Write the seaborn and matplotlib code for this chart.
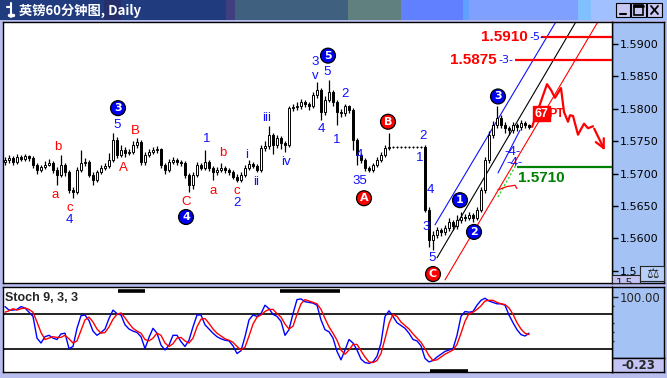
import numpy as np
import pandas as pd
import matplotlib
matplotlib.use("Agg")
import matplotlib.pyplot as plt
from matplotlib.patches import Rectangle
from matplotlib.lines import Line2D
from matplotlib.colors import to_rgb
import seaborn as sns

# ---------------- data ----------------
bars = list(range(132))
opens = [1.5718, 1.5721, 1.5724, 1.5718, 1.5726, 1.5723, 1.5727, 1.5724, 1.5713, 1.5706,
         1.5710, 1.5713, 1.5716, 1.5706, 1.5698, 1.5713, 1.5702, 1.5675, 1.5672, 1.5706,
         1.5716, 1.5718, 1.5698, 1.5690, 1.5702, 1.5709, 1.5712, 1.5721, 1.5752, 1.5729,
         1.5736, 1.5732, 1.5733, 1.5744, 1.5749, 1.5718, 1.5729, 1.5733, 1.5736, 1.5738,
         1.5713, 1.5706, 1.5718, 1.5721, 1.5718, 1.5716, 1.5698, 1.5682, 1.5698, 1.5713,
         1.5709, 1.5718, 1.5709, 1.5702, 1.5706, 1.5709, 1.5706, 1.5702, 1.5695, 1.5690,
         1.5698, 1.5709, 1.5715, 1.5712, 1.5706, 1.5740, 1.5743, 1.5760, 1.5744, 1.5755,
         1.5747, 1.5744, 1.5801, 1.5803, 1.5804, 1.5810, 1.5807, 1.5804, 1.5821, 1.5829,
         1.5795, 1.5814, 1.5826, 1.5810, 1.5795, 1.5793, 1.5804, 1.5798, 1.5752, 1.5729,
         1.5721, 1.5709, 1.5706, 1.5713, 1.5721, 1.5729, 1.5740, 1.5741, 1.5741, 1.5741,
         1.5741, 1.5741, 1.5741, 1.5741, 1.5741, 1.5741, 1.5644, 1.5598, 1.5605, 1.5613,
         1.5610, 1.5616, 1.5625, 1.5619, 1.5628, 1.5633, 1.5632, 1.5636, 1.5632, 1.5644,
         1.5675, 1.5721, 1.5760, 1.5775, 1.5786, 1.5775, 1.5770, 1.5767, 1.5775, 1.5772,
         1.5778, 1.5775]
closes = [1.5721, 1.5724, 1.5718, 1.5726, 1.5723, 1.5727, 1.5724, 1.5713, 1.5706, 1.5710,
          1.5713, 1.5716, 1.5706, 1.5698, 1.5713, 1.5702, 1.5675, 1.5672, 1.5706, 1.5716,
          1.5718, 1.5698, 1.5690, 1.5702, 1.5709, 1.5712, 1.5721, 1.5752, 1.5729, 1.5736,
          1.5732, 1.5733, 1.5744, 1.5749, 1.5718, 1.5729, 1.5733, 1.5736, 1.5738, 1.5713,
          1.5706, 1.5718, 1.5721, 1.5718, 1.5716, 1.5698, 1.5682, 1.5698, 1.5713, 1.5709,
          1.5718, 1.5709, 1.5702, 1.5706, 1.5709, 1.5706, 1.5702, 1.5695, 1.5690, 1.5698,
          1.5709, 1.5715, 1.5712, 1.5706, 1.5740, 1.5743, 1.5760, 1.5744, 1.5755, 1.5747,
          1.5744, 1.5801, 1.5803, 1.5804, 1.5810, 1.5807, 1.5804, 1.5821, 1.5829, 1.5795,
          1.5814, 1.5826, 1.5810, 1.5795, 1.5793, 1.5804, 1.5798, 1.5752, 1.5729, 1.5721,
          1.5709, 1.5706, 1.5713, 1.5721, 1.5729, 1.5740, 1.5741, 1.5741, 1.5741, 1.5741,
          1.5741, 1.5741, 1.5741, 1.5741, 1.5741, 1.5644, 1.5598, 1.5605, 1.5613, 1.5610,
          1.5616, 1.5625, 1.5619, 1.5628, 1.5633, 1.5632, 1.5636, 1.5632, 1.5644, 1.5675,
          1.5721, 1.5760, 1.5775, 1.5786, 1.5775, 1.5770, 1.5767, 1.5775, 1.5772, 1.5778,
          1.5775, 1.5772]
highs = [1.5726, 1.5729, 1.5727, 1.5730, 1.5729, 1.5731, 1.5729, 1.5727, 1.5716, 1.5714,
         1.5719, 1.5722, 1.5719, 1.5710, 1.5729, 1.5716, 1.5705, 1.5680, 1.5710, 1.5736,
         1.5724, 1.5721, 1.5702, 1.5706, 1.5713, 1.5716, 1.5732, 1.5763, 1.5757, 1.5744,
         1.5741, 1.5738, 1.5750, 1.5755, 1.5752, 1.5733, 1.5738, 1.5741, 1.5742, 1.5740,
         1.5716, 1.5722, 1.5725, 1.5724, 1.5721, 1.5719, 1.5701, 1.5702, 1.5718, 1.5717,
         1.5737, 1.5721, 1.5712, 1.5710, 1.5716, 1.5712, 1.5709, 1.5705, 1.5699, 1.5702,
         1.5713, 1.5721, 1.5718, 1.5715, 1.5744, 1.5750, 1.5773, 1.5763, 1.5760, 1.5758,
         1.5750, 1.5805, 1.5808, 1.5810, 1.5815, 1.5814, 1.5811, 1.5826, 1.5841, 1.5832,
         1.5819, 1.5844, 1.5829, 1.5813, 1.5800, 1.5807, 1.5806, 1.5801, 1.5755, 1.5732,
         1.5724, 1.5712, 1.5717, 1.5725, 1.5733, 1.5744, 1.5763, 1.5742, 1.5742, 1.5742,
         1.5742, 1.5742, 1.5742, 1.5742, 1.5742, 1.5744, 1.5648, 1.5612, 1.5618, 1.5616,
         1.5621, 1.5632, 1.5629, 1.5636, 1.5640, 1.5637, 1.5641, 1.5639, 1.5649, 1.5680,
         1.5726, 1.5765, 1.5781, 1.5804, 1.5790, 1.5779, 1.5774, 1.5780, 1.5778, 1.5783,
         1.5781, 1.5777]
lows = [1.5714, 1.5717, 1.5713, 1.5715, 1.5719, 1.5720, 1.5719, 1.5709, 1.5700, 1.5703,
        1.5707, 1.5711, 1.5701, 1.5682, 1.5695, 1.5697, 1.5670, 1.5662, 1.5668, 1.5703,
        1.5712, 1.5694, 1.5682, 1.5687, 1.5699, 1.5705, 1.5709, 1.5718, 1.5724, 1.5725,
        1.5726, 1.5728, 1.5730, 1.5740, 1.5714, 1.5714, 1.5726, 1.5730, 1.5732, 1.5709,
        1.5700, 1.5703, 1.5715, 1.5714, 1.5712, 1.5693, 1.5672, 1.5676, 1.5695, 1.5705,
        1.5706, 1.5704, 1.5690, 1.5698, 1.5703, 1.5701, 1.5698, 1.5691, 1.5687, 1.5687,
        1.5695, 1.5706, 1.5708, 1.5702, 1.5703, 1.5735, 1.5738, 1.5730, 1.5740, 1.5738,
        1.5733, 1.5741, 1.5797, 1.5798, 1.5800, 1.5802, 1.5798, 1.5801, 1.5817, 1.5783,
        1.5790, 1.5810, 1.5805, 1.5775, 1.5787, 1.5789, 1.5793, 1.5736, 1.5713, 1.5716,
        1.5704, 1.5702, 1.5703, 1.5710, 1.5718, 1.5726, 1.5737, 1.5740, 1.5740, 1.5740,
        1.5740, 1.5740, 1.5740, 1.5740, 1.5740, 1.5641, 1.5587, 1.5582, 1.5600, 1.5604,
        1.5606, 1.5612, 1.5613, 1.5615, 1.5624, 1.5627, 1.5628, 1.5626, 1.5628, 1.5640,
        1.5670, 1.5716, 1.5755, 1.5770, 1.5770, 1.5762, 1.5760, 1.5763, 1.5766, 1.5768,
        1.5771, 1.5769]

stoch_k = [86, 81, 81, 82, 86, 84, 78, 72, 41, 34,
           43, 45, 41, 39, 47, 48, 26, 29, 55, 73,
           74, 66, 51, 45, 49, 54, 69, 81, 76, 74,
           60, 54, 51, 49, 43, 26, 42, 55, 48, 31,
           24, 31, 45, 45, 36, 29, 38, 57, 74, 74,
           60, 54, 48, 43, 40, 38, 37, 30, 19, 23,
           43, 67, 74, 72, 76, 88, 83, 75, 72, 65,
           45, 53, 76, 96, 97, 93, 92, 91, 88, 67,
           53, 50, 41, 22, 10, 24, 39, 34, 24, 11,
           6, 5, 7, 15, 34, 72, 80, 72, 63, 59,
           55, 48, 39, 37, 30, 12, 7, 9, 14, 18,
           22, 24, 26, 45, 72, 79, 78, 79, 88, 95,
           98, 94, 92, 90, 90, 88, 74, 63, 53, 46,
           44, 48]
stoch_d = [78, 80, 83, 81, 83, 84, 82, 78, 64, 49,
           39, 41, 43, 42, 42, 45, 40, 34, 37, 52,
           67, 71, 64, 54, 48, 49, 57, 68, 75, 77,
           70, 62, 55, 51, 48, 39, 37, 41, 48, 45,
           34, 29, 33, 41, 42, 37, 34, 41, 57, 68,
           69, 62, 54, 48, 44, 40, 38, 35, 29, 24,
           28, 44, 61, 71, 74, 79, 82, 82, 76, 71,
           61, 54, 58, 75, 90, 96, 94, 92, 90, 82,
           69, 57, 48, 38, 24, 18, 24, 32, 32, 23,
           14, 7, 6, 9, 19, 40, 62, 75, 72, 64,
           59, 54, 47, 41, 35, 26, 16, 9, 10, 14,
           18, 21, 24, 32, 48, 65, 76, 78, 82, 87,
           94, 95, 95, 92, 90, 89, 84, 75, 63, 54,
           48, 46]

price_ticks = [1.5550, 1.5600, 1.5650, 1.5700, 1.5750, 1.5800, 1.5850, 1.5900]
price_tick_labels = ["1.5", "1.5600", "1.5650", "1.5700", "1.5750", "1.5800", "1.5850", "1.5900"]
corner_label = "1.5"
stoch_levels = [25, 75]
stoch_title = "Stoch 9, 3, 3"
stoch_max_label = "100.00"
stoch_min_label = "-0.23"
title = "英镑60分钟图, Daily"

# target / support levels
target_levels = [1.5910, 1.5875]
target_names = ["1.5910", "1.5875"]
target_tags = ["-5-", "-3-"]
target_label_end = [130.75, 123.0]
target_line_start = [134.0, 127.5]
support_level = 1.5710
support_name = "1.5710"
support_line_start = 128.0

# projected path
proj_bar = [131.75, 135.5, 136.5, 137.5, 139.0, 139.75, 140.75, 141.25, 142.0, 143.25, 144.75, 145.75, 147.0, 150.25]
proj_price = [1.5772, 1.5838, 1.5829, 1.5817, 1.5832, 1.5795, 1.5780, 1.5790, 1.5789, 1.5760, 1.5777, 1.5770, 1.5773, 1.5732]

# channel lines: (bar0, price0, bar1, price1)
chan_blue = [107.5, 1.5621, 138.0, 1.5937]
chan_black = [108.0, 1.5570, 143.0, 1.5937]
chan_red = [110.0, 1.5536, 148.5, 1.5937]
short_blue = [123.25, 1.5701, 128.75, 1.5767]
green_dots = [123.25, 1.5664, 128.0, 1.5716]
hook_bar = [123.25, 125.5, 127.5, 128.0]
hook_price = [1.5675, 1.5680, 1.5682, 1.5677]

# wave labels
wave_text = ["b", "a", "c", "4", "5", "A", "B", "C", "1", "a", "b", "c", "2", "i", "ii", "iii",
             "iv", "3", "v", "5", "4", "1", "2", "4", "35", "2", "1", "4", "3", "5", "-4-", "-4-"]
wave_bar = [13.25, 12.5, 16.25, 16.0, 28.0, 29.5, 32.5, 45.25, 50.5, 52.0, 54.5, 58.0, 58.0, 60.5, 62.75, 65.5,
            70.25, 77.5, 77.5, 80.5, 79.0, 83.0, 85.0, 88.5, 88.75, 104.5, 103.75, 106.25, 105.25, 106.75, 127.0, 127.5]
wave_price = [1.5741, 1.5667, 1.5647, 1.5628, 1.5775, 1.5709, 1.5766, 1.5656, 1.5753, 1.5673, 1.5732, 1.5673, 1.5655, 1.5729, 1.5687, 1.5786,
              1.5718, 1.5872, 1.5850, 1.5857, 1.5769, 1.5752, 1.5823, 1.5729, 1.5689, 1.5758, 1.5724, 1.5675, 1.5618, 1.5570, 1.5733, 1.5716]
wave_kind = ["r", "r", "r", "b", "b", "r", "r", "r", "b", "r", "r", "r", "b", "b", "b", "b",
             "b", "b", "b", "b", "b", "b", "b", "b", "b", "b", "b", "b", "b", "b", "b", "b"]

circ_text = ["3", "4", "5", "1", "2", "3", "A", "B", "C"]
circ_bar = [28.25, 45.25, 80.75, 113.75, 117.25, 123.25, 89.75, 95.75, 107.0]
circ_price = [1.5801, 1.5633, 1.5882, 1.5659, 1.5610, 1.5819, 1.5662, 1.5780, 1.5545]
circ_kind = ["b", "b", "b", "b", "b", "b", "r", "r", "r"]

pt_text = ["67", "PT"]
pt_bar = [134.1, 135.75]
pt_price = [1.5792, 1.5792]

cycle_start = [28.25, 68.75, 106.25]
cycle_end = [35.0, 83.75, 115.75]
cycle_level = [108.3, 108.3, -6.3]

# ---------------- styling ----------------
sns.set_style("white")
plt.rcParams['font.family'] = ['DejaVu Sans']

W, H = 667, 378
BG = '#b9bdee'
PANEL = '#a4c2f4'
LAV = '#c4c4f4'
fig = plt.figure(figsize=(W / 100, H / 100), dpi=100, facecolor=BG)


def box(x0, y0, x1, y1):
    return [x0 / W, 1 - y1 / H, (x1 - x0) / W, (y1 - y0) / H]


def frect(x0, y0, x1, y1, **kw):
    fig.add_artist(Rectangle((x0 / W, 1 - y1 / H), (x1 - x0) / W, (y1 - y0) / H,
                             transform=fig.transFigure, **kw))


def fline(xs, ys, **kw):
    fig.add_artist(Line2D([x / W for x in xs], [1 - y / H for y in ys],
                          transform=fig.transFigure, **kw))


# title bar
axt = fig.add_axes(box(0, 0, W, 20))
segs = [(0, 104, '#213c7e'), (104, 121, '#262f6a'), (121, 226, '#213c7e'), (226, 235, '#3f3f80'),
        (235, 348, '#406080'), (348, 401, '#608080'), (401, 463, '#6080ff'), (463, 469, '#60a0ff'),
        (469, 578, '#80a0ff'), (578, 591, '#80c0ff'), (591, 667, '#a0c0ff')]
img = np.zeros((1, W, 3))
for a, b, c in segs:
    img[0, a:b] = to_rgb(c)
axt.imshow(img, aspect='auto', extent=(0, W, 0, 1))
axt.axis('off')
fig.text(19 / W, 1 - 10.5 / H, title, color='white', fontsize=9.5, fontweight='bold', va='center',
         family=['Noto Sans CJK SC', 'DejaVu Sans'])
fline([11, 11], [3, 17], color='white', lw=1.5)
fline([7, 11], [7, 7], color='white', lw=1.5)
fline([9, 13], [15, 15], color='white', lw=2.5)
# window buttons
for x0, x1 in [(616, 630), (631, 646), (647, 662)]:
    frect(x0, 3, x1, 17, fc='#c8c8f4', ec='black', lw=0.8)
fline([620, 626], [13.5, 13.5], color='black', lw=1.5)
frect(634, 5.5, 643, 14.5, fc='none', ec='black', lw=1.2)
fline([634, 643], [6, 6], color='black', lw=2)
fline([651, 658], [6, 14], color='black', lw=1.3)
fline([651, 658], [14, 6], color='black', lw=1.3)

# ---------------- price panel ----------------
axr = fig.add_axes(box(612, 22, 664, 283), facecolor=PANEL, zorder=1)
axr.set_xticks([]); axr.set_yticks([])
for s in axr.spines.values():
    s.set_color('black'); s.set_linewidth(1)

ax = fig.add_axes(box(3, 22, 612, 283), facecolor='white', zorder=2)
df = pd.DataFrame(dict(bar=bars, open=opens, high=highs, low=lows, close=closes))
up = df['close'] >= df['open']
body_lo = np.minimum(df['open'], df['close'])
body_h = np.maximum((df['close'] - df['open']).abs(), 0.00007)
ax.vlines(df['bar'], df['low'], df['high'], color='black', lw=0.9, zorder=2)
ax.bar(df['bar'][up], body_h[up], bottom=body_lo[up], width=0.72, color='white',
       edgecolor='black', lw=0.7, zorder=3)
ax.bar(df['bar'][~up], body_h[~up], bottom=body_lo[~up], width=0.72, color='black',
       edgecolor='black', lw=0.7, zorder=3)

# channel lines
for ln, col in [(chan_blue, '#1010ff'), (chan_black, 'black'), (chan_red, 'red')]:
    ax.plot([ln[0], ln[2]], [ln[1], ln[3]], color=col, lw=0.8, zorder=1)
ax.plot([short_blue[0], short_blue[2]], [short_blue[1], short_blue[3]], color='#1010ff', lw=0.8, zorder=1)
ax.plot([green_dots[0], green_dots[2]], [green_dots[1], green_dots[3]], color='#30d030', lw=1.0,
        ls=(0, (1.5, 1.5)), zorder=1)
ax.plot(hook_bar, hook_price, color='red', lw=0.9, zorder=1)

# target & support levels
for lvl, nm, tg, le, ls in zip(target_levels, target_names, target_tags, target_label_end, target_line_start):
    ax.hlines(lvl, ls, 151.75, color='red', lw=1.6, zorder=4)
    ax.text(le, lvl, nm, ha='right', va='center', color='red', fontsize=11, fontweight='bold',
            family='Liberation Sans', zorder=5)
    ax.text(le + 0.3, lvl, tg, ha='left', va='center', color='#1010ff', fontsize=8, zorder=5)
ax.hlines(support_level, support_line_start, 151.75, color='#008000', lw=1.6, zorder=4)
ax.text(support_line_start + 0.3, support_level - 0.0017, support_name, ha='left', va='center',
        color='#008000', fontsize=11, fontweight='bold', family='Liberation Sans', zorder=5)

# projected path
sns.lineplot(x=proj_bar[:-1], y=proj_price[:-1], sort=False, color='red', lw=1.6, ax=ax,
             zorder=4, legend=False)
ax.annotate('', xy=(proj_bar[-1], proj_price[-1]), xytext=(proj_bar[-2], proj_price[-2]),
            arrowprops=dict(arrowstyle='->', color='red', lw=1.6, mutation_scale=16), zorder=4)
ax.text(pt_bar[0], pt_price[0], pt_text[0], ha='center', va='center', color='white', fontsize=9,
        fontweight='bold', family='Liberation Sans', zorder=6,
        bbox=dict(boxstyle='square,pad=0.12', fc='red', ec='red'))
ax.text(pt_bar[1], pt_price[1], pt_text[1], ha='left', va='center', color='red', fontsize=9,
        fontweight='bold', family='Liberation Sans', zorder=6)

# wave labels
cmap = {'r': '#ff0000', 'b': '#1010ff'}
for t, x, y, k in zip(wave_text, wave_bar, wave_price, wave_kind):
    ax.text(x, y, t, ha='center', va='center', color=cmap[k], fontsize=9.5,
            family='Liberation Sans', zorder=6)
fillmap = {'r': '#ff0000', 'b': '#0000f0'}
for t, x, y, k in zip(circ_text, circ_bar, circ_price, circ_kind):
    ax.text(x, y, t, ha='center', va='center', color='white', fontsize=8, fontweight='bold',
            zorder=7, bbox=dict(boxstyle='circle,pad=0.22', fc=fillmap[k], ec='black', lw=0.9))

ax.set_xlim(-0.5, 151.75)
ax.set_ylim(1.55312, 1.59339)
ax.set_xticks([])
ax.yaxis.tick_right()
ax.set_yticks(price_ticks)
ax.set_yticklabels(price_tick_labels)
ax.tick_params(axis='y', direction='out', length=4, width=1, pad=1.5, labelsize=8,
               colors='black', right=True, left=False)
ax.set_xlabel(''); ax.set_ylabel('')
for s in ax.spines.values():
    s.set_visible(True); s.set_color('black'); s.set_linewidth(1)

# bottom-right corner box & icon
axc = fig.add_axes(box(612, 275, 640, 283), facecolor=LAV, zorder=3)
axc.set_xticks([]); axc.set_yticks([])
axc.text(0.45, 0.0, corner_label, transform=axc.transAxes, ha='center', va='center', fontsize=8,
         clip_on=True)
axi = fig.add_axes(box(640, 266, 664, 281), facecolor='#b8d0f8', zorder=3)
axi.set_xticks([]); axi.set_yticks([])
axi.text(0.5, 0.45, '⚖', transform=axi.transAxes, ha='center', va='center', fontsize=10, color='#202020')

# ---------------- stochastic panel ----------------
axr2 = fig.add_axes(box(612, 287, 664, 358), facecolor=PANEL, zorder=1)
axr2.set_xticks([]); axr2.set_yticks([])
axb = fig.add_axes(box(612, 358, 664, 372), facecolor=LAV, zorder=1)
axb.set_xticks([]); axb.set_yticks([])
axb.text(0.5, 0.45, stoch_min_label, transform=axb.transAxes, ha='center', va='center',
         fontsize=8.5, fontweight='bold')
for a in (axr2, axb):
    for s in a.spines.values():
        s.set_color('black'); s.set_linewidth(1)

ax2 = fig.add_axes(box(3, 287, 612, 372), facecolor='white', zorder=2)
for lv in stoch_levels:
    ax2.axhline(lv, color='black', lw=1.2, zorder=1)
sns.lineplot(x=bars, y=stoch_k, color='#0000ff', lw=1.0, ax=ax2, zorder=3, legend=False)
sns.lineplot(x=bars, y=stoch_d, color='#ff0000', lw=1.0, ax=ax2, zorder=3, legend=False)
for x0, x1, lv in zip(cycle_start, cycle_end, cycle_level):
    ax2.hlines(lv, x0, x1, color='black', lw=2.6, zorder=4)
ax2.text(0.004, 0.94, stoch_title, transform=ax2.transAxes, ha='left', va='top', fontsize=9,
         fontweight='bold', family='Liberation Sans', zorder=5)
ax2.set_xlim(-0.5, 151.75)
ax2.set_ylim(-7.4, 114)
ax2.set_xticks([])
ax2.yaxis.tick_right()
ax2.set_yticks([100])
ax2.set_yticklabels([stoch_max_label])
ax2.set_yticks([12.5, 37.5, 50, 62.5, 87.5], minor=True)
ax2.tick_params(axis='y', which='major', direction='out', length=4, width=1, pad=1.5,
                labelsize=8.5, right=True, left=False)
ax2.tick_params(axis='y', which='minor', direction='out', length=1.5, width=1, right=True, left=False)
ax2.set_xlabel(''); ax2.set_ylabel('')
for s in ax2.spines.values():
    s.set_visible(True); s.set_color('black'); s.set_linewidth(1)

fig.savefig('out.png', dpi=100, facecolor=BG)
